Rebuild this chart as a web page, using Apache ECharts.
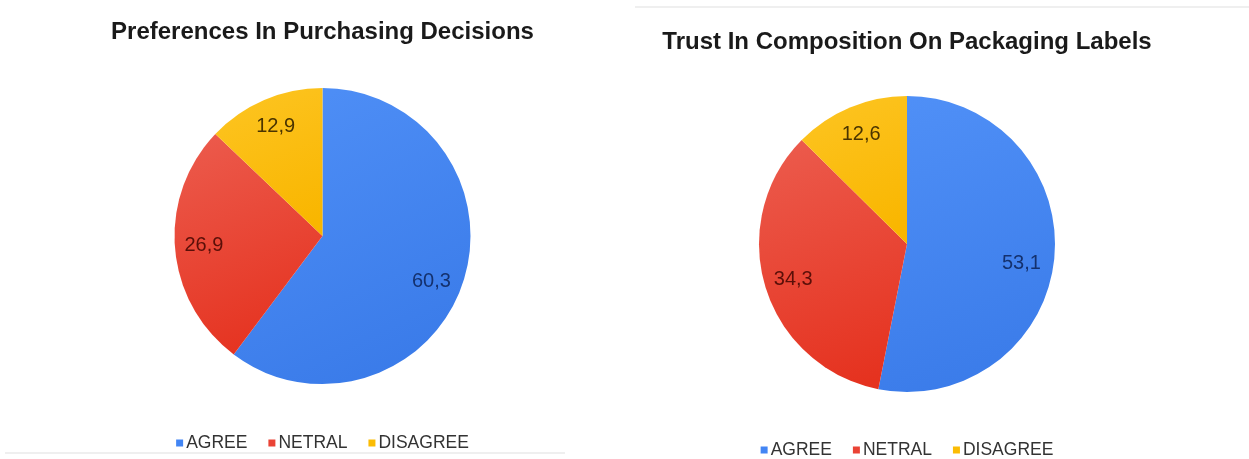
<!DOCTYPE html>
<html>
<head>
<meta charset="utf-8">
<script src="https://cdn.jsdelivr.net/npm/echarts@6/dist/echarts.min.js"></script>
<style>
  html, body { margin: 0; padding: 0; background: #fff; }
  #wrap { position: relative; width: 1249px; height: 459px; overflow: hidden; }
  #c1 { position: absolute; left: 0; top: 0; width: 645px; height: 459px; }
  #c2 { position: absolute; left: 565px; top: 0; width: 684px; height: 459px; }
</style>
</head>
<body>
<div id="wrap"><div id="c1"></div><div id="c2"></div></div>
<script>
const categories = ['AGREE', 'NETRAL', 'DISAGREE'];
const purchasingValues = [60.3, 26.9, 12.9];
const trustValues = [53.1, 34.3, 12.6];
const titles = ['Preferences In Purchasing Decisions', 'Trust In Composition On Packaging Labels'];

const FONT = '"Liberation Sans", Arial, sans-serif';
const baseColors = ['#4285f4', '#ea4335', '#fbbc04'];
const grad = [
  ['#5090f7', '#3a7be9'],
  ['#ec5c4e', '#e5321f'],
  ['#fdc523', '#f9b600']
];
const labelColors = ['#14316e', '#5a0f08', '#4a3400'];
const labelOffsets = [[-4, 8], [0, 0], [0, 0]];

function fmt(v) { return String(v).replace('.', ','); }

function makeOption(title, values, titleTop, centerY, legendTop, line) {
  const visData = categories.map((c, i) => ({
    name: c,
    value: values[i],
    itemStyle: {
      color: new echarts.graphic.LinearGradient(0, 0, 0.6, 1, [
        { offset: 0, color: grad[i][0] },
        { offset: 1, color: grad[i][1] }
      ])
    }
  }));
  const lblData = categories.map((c, i) => ({
    name: c,
    value: values[i],
    label: { color: labelColors[i], offset: labelOffsets[i] }
  }));
  return {
    animation: false,
    title: {
      text: title,
      left: 'center',
      top: titleTop,
      textStyle: { fontFamily: FONT, fontSize: 24, fontWeight: 'bold', color: '#1a1a1a' }
    },
    legend: {
      top: legendTop,
      left: 'center',
      itemWidth: 7,
      itemHeight: 7,
      itemGap: 21,
      icon: 'rect',
      selectedMode: false,
      textStyle: { fontFamily: FONT, fontSize: 17.5, color: '#333', padding: [0, 0, 0, -2] },
      data: categories.map((c, i) => ({ name: c, itemStyle: { color: baseColors[i] } }))
    },
    graphic: [{ type: 'line', shape: line, style: { stroke: '#efefef', lineWidth: 2 }, silent: true }],
    series: [
      {
        type: 'pie',
        center: ['50%', centerY],
        radius: [0, 148],
        startAngle: 90,
        clockwise: true,
        label: { show: false },
        labelLine: { show: false },
        emphasis: { disabled: true },
        itemStyle: { borderWidth: 0 },
        data: visData
      },
      {
        type: 'pie',
        center: ['50%', centerY],
        radius: [84, 148],
        startAngle: 90,
        clockwise: true,
        silent: true,
        itemStyle: { color: 'rgba(0,0,0,0)', borderWidth: 0 },
        label: {
          show: true,
          position: 'inside',
          fontFamily: FONT,
          fontSize: 20,
          formatter: p => fmt(p.value)
        },
        labelLine: { show: false },
        emphasis: { disabled: true },
        data: lblData
      }
    ]
  };
}

const ch1 = echarts.init(document.getElementById('c1'), null, { renderer: 'canvas' });
ch1.setOption(makeOption(titles[0], purchasingValues, 15, 236, 429, { x1: 5, y1: 453, x2: 565, y2: 453 }));
const ch2 = echarts.init(document.getElementById('c2'), null, { renderer: 'canvas' });
ch2.setOption(makeOption(titles[1], trustValues, 25, 244, 436, { x1: 70, y1: 7, x2: 684, y2: 7 }));
</script>
</body>
</html>
